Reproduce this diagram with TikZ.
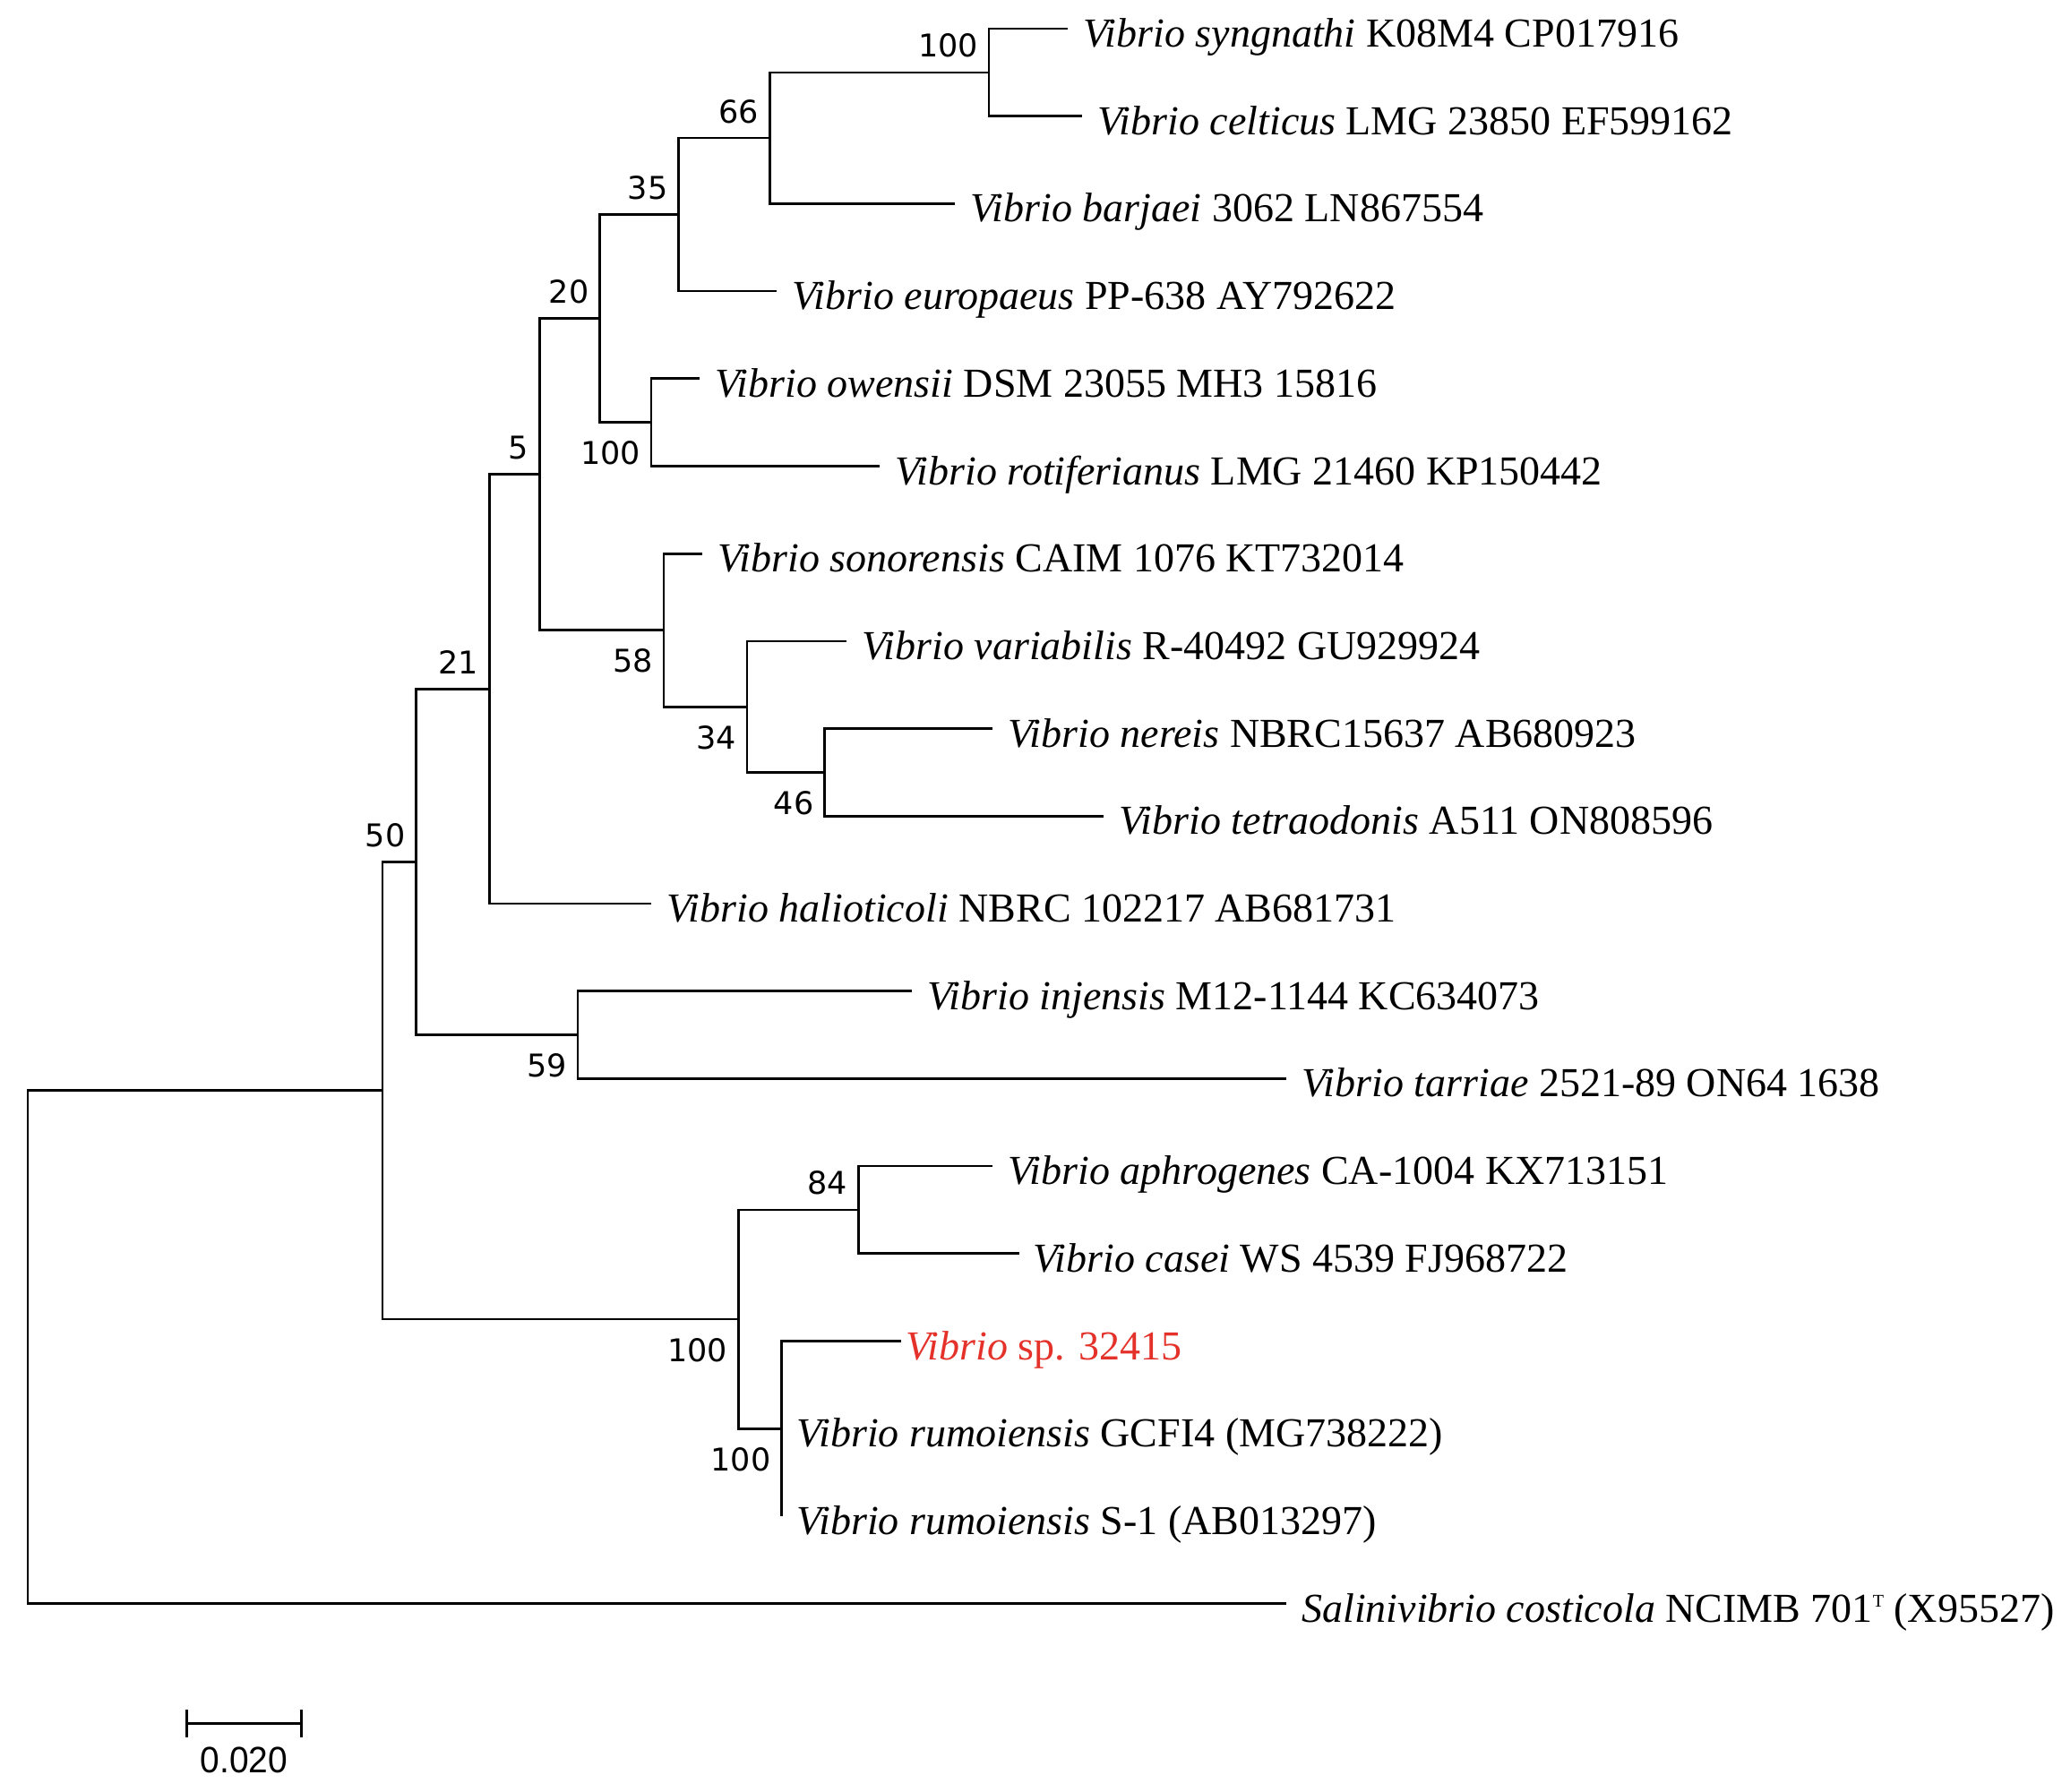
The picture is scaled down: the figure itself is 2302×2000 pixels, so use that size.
\documentclass[tikz,border=0pt]{standalone}
\usepackage{fontspec}
\setmainfont{Liberation Serif}
\newfontfamily\bootfont{DejaVu Sans}
\newfontfamily\barfont[FakeStretch=0.95]{Liberation Sans}
\definecolor{strainred}{RGB}{228,50,42}
\newcommand{\typestrain}{\raisebox{17pt}{\fontsize{20}{20}\selectfont T}}
\tikzset{
  branch/.style={line width=2.7pt},
  taxon/.style={anchor=base west, inner sep=0pt, xshift=#1, yshift=-20.5pt,
    font=\fontsize{46}{54}\selectfont},
  taxon/.default=17pt,
  boot/.style={anchor=base east, inner sep=0pt, xshift=-12pt,
    font=\bootfont\fontsize{35}{40}\selectfont},
  bsa/.style={boot, yshift=17pt},
  bsb/.style={boot, yshift=-47pt},
}
\begin{document}
\begin{tikzpicture}[x=1pt, y=-1pt]
  \useasboundingbox (0,0) rectangle (2302,2000);
  % internal nodes
  \coordinate (root)  at (31,1504);
  \coordinate (nx)    at (427,1217.75);
  \coordinate (n50)   at (464.5,962.4);
  \coordinate (n21)   at (546.4,769.3);
  \coordinate (n5)    at (602.3,529.65);
  \coordinate (n20)   at (669.6,355.6);
  \coordinate (n35)   at (757.6,239.6);
  \coordinate (n66)   at (859.4,154.1);
  \coordinate (n100a) at (1104,80.85);
  \coordinate (n100b) at (727,471.65);
  \coordinate (n58)   at (741,703.7);
  \coordinate (n34)   at (834,789.2);
  \coordinate (n46)   at (920.6,862.45);
  \coordinate (n59)   at (645,1155.55);
  \coordinate (n100c) at (824.2,1473.1);
  \coordinate (n84)   at (958.2,1350.95);
  \coordinate (n100d) at (872.5,1595.2);
  % tips
  \coordinate (syn)  at (1192,32);
  \coordinate (cel)  at (1208,129.7);
  \coordinate (bar)  at (1066,227.4);
  \coordinate (eur)  at (867,325.1);
  \coordinate (owe)  at (781,422.8);
  \coordinate (rot)  at (982,520.5);
  \coordinate (son)  at (784,618.2);
  \coordinate (var)  at (945,715.9);
  \coordinate (ner)  at (1108,813.6);
  \coordinate (tet)  at (1232,911.3);
  \coordinate (hal)  at (727,1009);
  \coordinate (inj)  at (1018,1106.7);
  \coordinate (tar)  at (1436,1204.4);
  \coordinate (aph)  at (1108,1302.1);
  \coordinate (cas)  at (1138,1399.8);
  \coordinate (sp)   at (1006,1497.5);
  \coordinate (gcf)  at (872.5,1595.2);
  \coordinate (sone) at (872.5,1692.9);
  \coordinate (sal)  at (1436,1790.6);
  % branches
  \draw[branch] (root) |- (nx) (root) |- (sal);
  \draw[branch] (nx) |- (n50) (nx) |- (n100c);
  \draw[branch] (n50) |- (n21) (n50) |- (n59);
  \draw[branch] (n21) |- (n5) (n21) |- (hal);
  \draw[branch] (n5) |- (n20) (n5) |- (n58);
  \draw[branch] (n20) |- (n35) (n20) |- (n100b);
  \draw[branch] (n35) |- (n66) (n35) |- (eur);
  \draw[branch] (n66) |- (n100a) (n66) |- (bar);
  \draw[branch] (n100a) |- (syn) (n100a) |- (cel);
  \draw[branch] (n100b) |- (owe) (n100b) |- (rot);
  \draw[branch] (n58) |- (son) (n58) |- (n34);
  \draw[branch] (n34) |- (var) (n34) |- (n46);
  \draw[branch] (n46) |- (ner) (n46) |- (tet);
  \draw[branch] (n59) |- (inj) (n59) |- (tar);
  \draw[branch] (n100c) |- (n84) (n100c) |- (n100d);
  \draw[branch] (n84) |- (aph) (n84) |- (cas);
  \draw[branch] (n100d) |- (sp) (n100d) |- (sone);
  % bootstrap values
  \node[bsa] (b100a) at (n100a) {100};
  \node[bsa] (b66)   at (n66) {66};
  \node[bsa] (b35)   at (n35) {35};
  \node[bsa] (b20)   at (n20) {20};
  \node[bsa] (b5)    at (n5) {5};
  \node[bsa] (b21)   at (n21) {21};
  \node[bsa] (b50)   at (n50) {50};
  \node[bsa] (b84)   at (n84) {84};
  \node[bsb] (b100b) at (n100b) {100};
  \node[bsb] (b58)   at (n58) {58};
  \node[bsb] (b34)   at (n34) {34};
  \node[bsb] (b46)   at (n46) {46};
  \node[bsb] (b59)   at (n59) {59};
  \node[bsb] (b100c) at (n100c) {100};
  \node[bsb] (b100d) at (n100d) {100};
  % taxa
  \node[taxon] (tsyn) at (syn) {\textit{Vibrio syngnathi} K08M4 CP017916};
  \node[taxon] (tcel) at (cel) {\textit{Vibrio celticus} LMG 23850 EF599162};
  \node[taxon] (tbar) at (bar) {\textit{Vibrio barjaei} 3062 LN867554};
  \node[taxon] (teur) at (eur) {\textit{Vibrio europaeus} PP-638 AY792622};
  \node[taxon] (towe) at (owe) {\textit{Vibrio owensii} DSM 23055 MH3 15816};
  \node[taxon] (trot) at (rot) {\textit{Vibrio rotiferianus} LMG 21460 KP150442};
  \node[taxon] (tson) at (son) {\textit{Vibrio sonorensis} CAIM 1076 KT732014};
  \node[taxon] (tvar) at (var) {\textit{Vibrio variabilis} R-40492 GU929924};
  \node[taxon] (tner) at (ner) {\textit{Vibrio nereis} NBRC15637 AB680923};
  \node[taxon] (ttet) at (tet) {\textit{Vibrio tetraodonis} A511 ON808596};
  \node[taxon] (thal) at (hal) {\textit{Vibrio halioticoli} NBRC 102217 AB681731};
  \node[taxon] (tinj) at (inj) {\textit{Vibrio injensis} M12-1144 KC634073};
  \node[taxon] (ttar) at (tar) {\textit{Vibrio tarriae} 2521-89 ON64 1638};
  \node[taxon] (taph) at (aph) {\textit{Vibrio aphrogenes} CA-1004 KX713151};
  \node[taxon=15pt] (tcas) at (cas) {\textit{Vibrio casei} WS 4539 FJ968722};
  \node[taxon=5pt, text=strainred] (tsp) at (sp) {\textit{Vibrio} sp. 32415};
  \node[taxon] (tgcf) at (gcf) {\textit{Vibrio rumoiensis} GCFI4 (MG738222)};
  \node[taxon] (tsone) at (sone) {\textit{Vibrio rumoiensis} S-1 (AB013297)};
  \node[taxon] (tsal) at (sal) {\textit{Salinivibrio costicola} NCIMB 701\typestrain\ (X95527)};
  % scale bar
  \coordinate (sbl) at (208.3,1924.3);
  \coordinate (sbr) at (336.7,1924.3);
  \draw[branch] (sbl) -- (sbr);
  \draw[branch] ([yshift=15.5pt]sbl) -- ([yshift=-15.5pt]sbl);
  \draw[branch] ([yshift=15.5pt]sbr) -- ([yshift=-15.5pt]sbr);
  \node[anchor=base, inner sep=0pt, font=\barfont\fontsize{41}{48}\selectfont]
    (sbtxt) at (272.5,1979.3) {0.020};
\end{tikzpicture}
\end{document}
